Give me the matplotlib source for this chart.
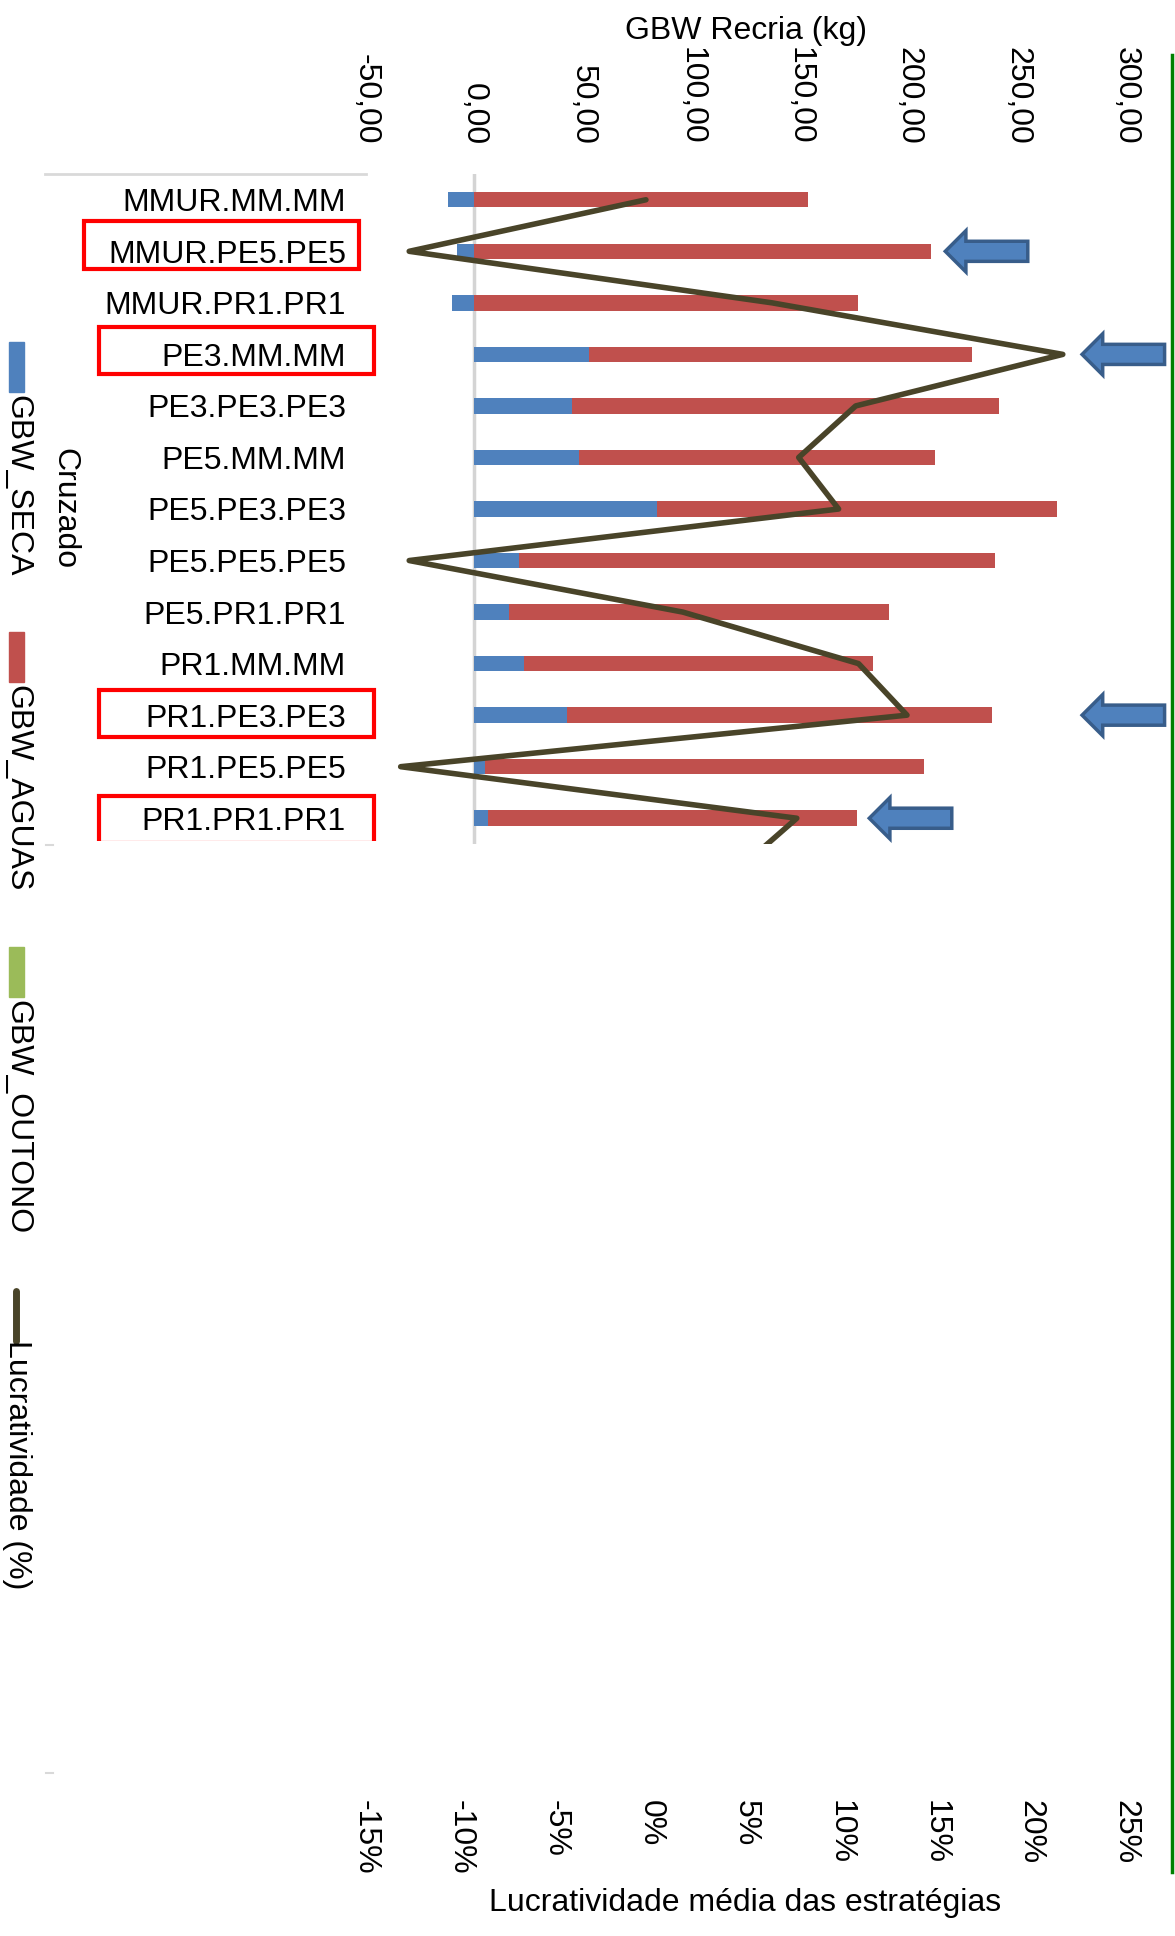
import matplotlib.pyplot as plt
from matplotlib.patches import Rectangle, FancyArrow
from matplotlib.lines import Line2D
from matplotlib.transforms import blended_transform_factory, Bbox, TransformedBbox

plt.rcParams['font.family'] = ['Liberation Sans', 'DejaVu Sans']

# data
categories = ["MMUR.MM.MM", "MMUR.PE5.PE5", "MMUR.PR1.PR1", "PE3.MM.MM",
              "PE3.PE3.PE3", "PE5.MM.MM", "PE5.PE3.PE3", "PE5.PE5.PE5",
              "PE5.PR1.PR1", "PR1.MM.MM", "PR1.PE3.PE3", "PR1.PE5.PE5",
              "PR1.PR1.PR1"]
gbw_seca = [-12.0, -8.0, -10.1, 53.0, 45.3, 48.3, 84.4, 20.9, 15.9, 23.1, 42.7, 5.1, 6.6]
gbw_aguas = [153.9, 210.2, 176.6, 176.4, 196.3, 164.1, 184.0, 218.9, 175.4, 160.7, 195.8, 201.9, 169.6]
gbw_outono = [0, 0, 0, 0, 0, 0, 0, 0, 0, 0, 0, 0, 0]
# last value belongs to the next (hidden) strategy, cut off by the plot area
lucratividade = [-0.24, -12.7, 6.4, 21.7, 10.8, 7.8, 9.9, -12.7, 1.7, 10.95, 13.5, -13.15, 7.7, 4.6]
series_names = ["GBW_SECA", "GBW_AGUAS", "GBW_OUTONO", "Lucratividade (%)"]
highlighted = [1, 3, 10, 12]

kg_ticks = [-50, 0, 50, 100, 150, 200, 250, 300]
pct_ticks = [-15, -10, -5, 0, 5, 10, 15, 20, 25]

BLUE, RED, GREEN, OLIVE = "#4F81BD", "#C0504D", "#9BBB59", "#494429"
FS = 23

W, H = 1175, 1936
fig = plt.figure(figsize=(W / 100, H / 100), dpi=100)


def fx(px):
    return px / W


def fy(py):
    return 1 - py / H


ax = fig.add_axes([fx(365.5), fy(844), fx(1125.5) - fx(365.5), fy(174) - fy(844)])
# profitability line on its own x scale (create first: twiny moves ax ticks)
ax2 = ax.twiny()

rows = list(range(len(categories)))
ax.barh(rows, gbw_seca, height=0.3, color=BLUE)
left_aguas = [max(s, 0) for s in gbw_seca]
ax.barh(rows, gbw_aguas, left=left_aguas, height=0.3, color=RED)
left_outono = [l + a for l, a in zip(left_aguas, gbw_aguas)]
ax.barh(rows, gbw_outono, left=left_outono, height=0.3, color=GREEN)
ax.axvline(0, color="#d4d4d4", lw=2.5, zorder=0)

ax.set_xlim(-50, 300)
ax.set_ylim(len(categories) - 0.5, -0.5)
ax.xaxis.tick_top()
ax.xaxis.set_label_position("top")
ax.set_xticks(kg_ticks, [f"{t:.2f}".replace(".", ",") for t in kg_ticks])
ax.tick_params(axis="x", length=0, pad=21, labelsize=FS, labelrotation=270)
ax.set_xlabel("GBW Recria (kg)", fontsize=FS, labelpad=6)
ax.set_yticks(rows, categories)
ax.tick_params(axis="y", length=0, pad=14, labelsize=FS)
for s in ax.spines.values():
    s.set_visible(False)

ax2.plot(lucratividade, range(len(lucratividade)), color=OLIVE, lw=4,
         solid_joinstyle="round", solid_capstyle="round")
ax2.set_xlim(-15, 25)
ax2.set_ylim(len(categories) - 0.5, -0.5)
ax2.xaxis.tick_bottom()
ax2.xaxis.set_label_position("bottom")
ax2.set_xticks(pct_ticks, [f"{p}%" for p in pct_ticks])
ax2.tick_params(axis="x", length=0, pad=688, labelsize=FS, labelrotation=270)
ax2.set_xlabel("Lucratividade média das estratégias", fontsize=FS, labelpad=10)
for s in ax2.spines.values():
    s.set_visible(False)

# arrows pointing at highlighted strategies
arrow_tail = {1: 255, 3: 318, 10: 318, 12: 220}
for r in highlighted:
    arr = FancyArrow(arrow_tail[r], r, -38, 0, width=0.39, head_width=0.8,
                     head_length=9.5, length_includes_head=True,
                     fc=BLUE, ec="#385D8A", lw=2.5)
    arr.set_clip_on(False)
    ax.add_patch(arr)

# red boxes round the highlighted labels (drawn by hand in the original)
box_left = {1: 84, 3: 99, 10: 99, 12: 99}
box_shift = {1: -0.12, 3: -0.07, 10: -0.03, 12: 0.03}
tr = blended_transform_factory(fig.transFigure, ax.transData)
clip = TransformedBbox(Bbox.from_extents(0, fy(841), 1, fy(170)), fig.transFigure)
for r in highlighted:
    rect = Rectangle((fx(box_left[r]), r + box_shift[r] - 0.46), fx(275), 0.92,
                     transform=tr, fill=False, ec="#FF0000", lw=3)
    fig.add_artist(rect)
    rect.set_clip_box(clip)

# category axis decorations
fig.add_artist(Line2D([fx(45), fx(366)], [fy(174), fy(174)], color="#d9d9d9", lw=2))
for yy in [845, 1773]:
    fig.add_artist(Line2D([fx(46), fx(53)], [fy(yy), fy(yy)], color="#d9d9d9", lw=1.5))
fig.text(fx(64), fy(509), "Cruzado", rotation=270, ha="center", va="center", fontsize=FS)

# legend (vertical, on the left)
leg_top = [342, 632, 947, 1287]
leg_colors = [BLUE, RED, GREEN]
for i, name in enumerate(series_names):
    y0 = leg_top[i]
    if i < 3:
        fig.add_artist(Rectangle((fx(9), fy(y0 + 50)), fx(15), fy(y0) - fy(y0 + 50),
                                 transform=fig.transFigure, color=leg_colors[i]))
    else:
        fig.add_artist(Line2D([fx(16), fx(16)], [fy(y0 + 4), fy(y0 + 54)], color=OLIVE,
                              lw=5, solid_capstyle="round"))
    fig.text(fx(17), fy(y0 + 53), name, rotation=270, ha="center", va="top", fontsize=FS)

# green frame line at the right
fig.add_artist(Line2D([fx(1172), fx(1172)], [fy(55), fy(1872)], color="#008000", lw=2.5))

fig.savefig("out.png", dpi=100)
